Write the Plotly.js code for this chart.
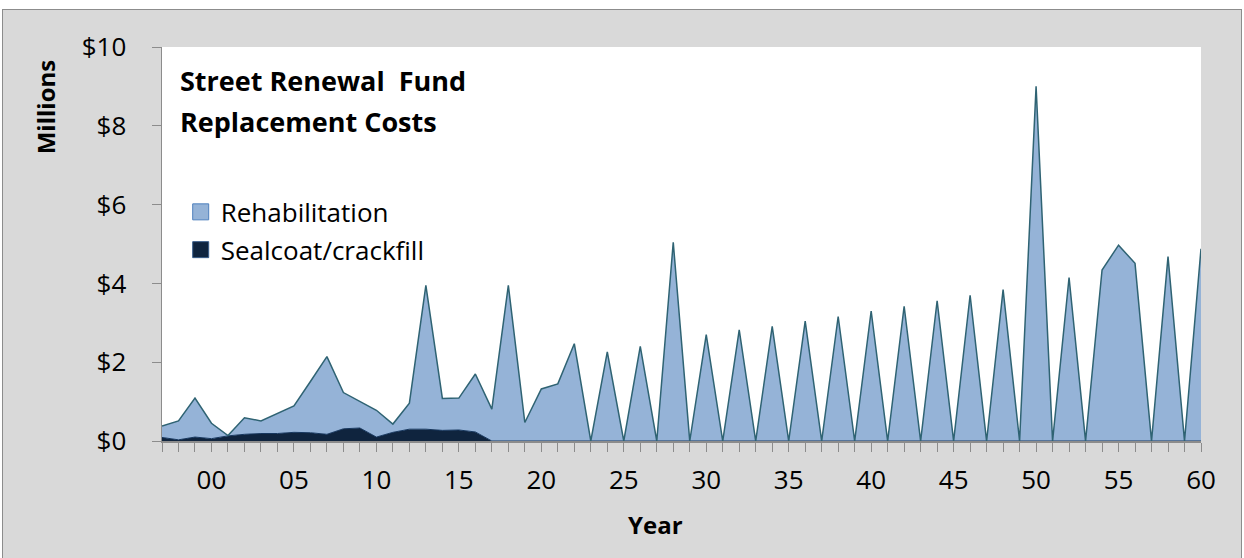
<!DOCTYPE html>
<html>
<head>
<meta charset="utf-8">
<script src="https://cdn.plot.ly/plotly-3.0.1.min.js"></script>
<style>
  html, body { margin: 0; padding: 0; background: #ffffff; }
  #frame { position: absolute; left: 2px; top: 9px; width: 1238px; height: 549px;
           border: 1px solid #8c8c8c; border-bottom: none; background: #d9d9d9; }
  #chart { width: 1238px; height: 549px; }
</style>
</head>
<body>
<div id="frame"><div id="chart"></div></div>
<script>
// Years (category axis) 1997–2060
const years = [1997,1998,1999,2000,2001,2002,2003,2004,2005,2006,2007,2008,2009,2010,
  2011,2012,2013,2014,2015,2016,2017,2018,2019,2020,2021,2022,2023,2024,2025,2026,2027,
  2028,2029,2030,2031,2032,2033,2034,2035,2036,2037,2038,2039,2040,2041,2042,2043,2044,
  2045,2046,2047,2048,2049,2050,2051,2052,2053,2054,2055,2056,2057,2058,2059,2060];

// Sealcoat/crackfill costs, $ millions (bottom of stack)
const sealcoat = [0.09,0.03,0.10,0.06,0.13,0.17,0.19,0.19,0.22,0.21,0.17,0.31,0.33,0.10,
  0.22,0.30,0.30,0.27,0.28,0.23,0,0,0,0,0,0,0,0,0,0,0,0,0,0,0,0,0,0,0,0,0,0,0,0,0,0,0,0,
  0,0,0,0,0,0,0,0,0,0,0,0,0,0,0,0];

// Rehabilitation costs, $ millions (stacked on top)
const rehab = [0.29,0.48,0.99,0.39,0.01,0.42,0.32,0.52,0.67,1.30,1.97,0.92,0.67,0.68,0.21,
  0.66,3.65,0.81,0.81,1.47,0.81,3.95,0.47,1.32,1.45,2.47,0,2.26,0,2.40,0,5.04,0,2.70,0,
  2.82,0,2.91,0,3.04,0,3.16,0,3.30,0,3.42,0,3.56,0,3.70,0,3.84,0,9.0,0,4.15,0,4.34,4.97,
  4.51,0,4.68,0,4.88];

// X tick labels
const xTickVals = [2000,2005,2010,2015,2020,2025,2030,2035,2040,2045,2050,2055,2060];
const xTickText = ["00","05","10","15","20","25","30","35","40","45","50","55","60"];

// Y ticks
const yTickVals = [0,2,4,6,8,10];
const yTickText = ["$0","$2","$4","$6","$8","$10"];

const FONT = "'Open Sans', Lato, sans-serif";
const rehabFill = "#95b3d7", rehabLine = "#2f6373";
const sealFill = "#0f243e", sealLine = "#17375e";

const traces = [
  { x: years, y: sealcoat, type: "scatter", mode: "lines", stackgroup: "one",
    name: "Sealcoat/crackfill", fillcolor: sealFill,
    line: { color: sealLine, width: 1 }, showlegend: false, hoverinfo: "x+y" },
  { x: years, y: rehab, type: "scatter", mode: "lines", stackgroup: "one",
    name: "Rehabilitation", fillcolor: rehabFill,
    line: { color: rehabLine, width: 1.5 }, showlegend: false, hoverinfo: "x+y" },
  // legend entries (square swatches)
  { x: [null], y: [null], type: "scatter", mode: "markers", name: "Rehabilitation",
    legendgroup: "a", marker: { symbol: "square", size: 16, color: rehabFill,
    line: { color: "#4f81bd", width: 1 } } },
  { x: [null], y: [null], type: "scatter", mode: "markers", name: "Sealcoat/crackfill",
    legendgroup: "b", marker: { symbol: "square", size: 16, color: sealFill,
    line: { color: "#385d8a", width: 1 } } }
];

const layout = {
  width: 1238, height: 549,
  margin: { l: 159, r: 40, t: 37, b: 118 },
  paper_bgcolor: "#d9d9d9",
  plot_bgcolor: "#ffffff",
  font: { family: FONT, color: "#000000", size: 22 },
  showlegend: true,
  legend: { x: 0.018, y: 0.641, xanchor: "left", yanchor: "top",
    bgcolor: "rgba(0,0,0,0)", font: { family: FONT, size: 26, color: "#000" },
    traceorder: "grouped", tracegroupgap: 1 },
  xaxis: {
    range: [1997, 2060], type: "linear",
    tickmode: "array", tickvals: xTickVals, ticktext: xTickText,
    ticks: "outside", ticklen: 9, tickcolor: "#8c8c8c", tickwidth: 1,
    minor: { tickmode: "linear", tick0: 1997, dtick: 1, ticks: "outside",
             ticklen: 9, tickcolor: "#8c8c8c", tickwidth: 1, showgrid: false },
    showline: true, linecolor: "#8c8c8c", linewidth: 1.5,
    showgrid: false, zeroline: false,
    tickfont: { family: FONT, size: 26, color: "#000" },
    ticklabelstandoff: 6, fixedrange: true
  },
  yaxis: {
    range: [0, 10], tickmode: "array", tickvals: yTickVals, ticktext: yTickText,
    ticks: "outside", ticklen: 9, tickcolor: "#8c8c8c", tickwidth: 1,
    showline: true, linecolor: "#8c8c8c", linewidth: 1.5,
    showgrid: false, zeroline: false,
    tickfont: { family: FONT, size: 26, color: "#000" },
    ticklabelstandoff: 20, fixedrange: true
  },
  annotations: [
    { text: "<b>Street Renewal\u00a0 Fund</b>", xref: "paper", yref: "paper",
      x: 0.0154, y: 0.915, xanchor: "left", yanchor: "middle", showarrow: false,
      font: { family: FONT, size: 27, color: "#000" } },
    { text: "<b>Replacement Costs</b>", xref: "paper", yref: "paper",
      x: 0.0154, y: 0.81, xanchor: "left", yanchor: "middle", showarrow: false,
      font: { family: FONT, size: 27, color: "#000" } },
    { text: "<b>Millions</b>", xref: "paper", yref: "paper", textangle: -90,
      x: -0.1126, y: 0.847, xanchor: "center", yanchor: "middle", showarrow: false,
      font: { family: FONT, size: 24, color: "#000" } },
    { text: "<b>Year</b>", xref: "paper", yref: "paper",
      x: 0.4745, y: -0.211, xanchor: "center", yanchor: "middle", showarrow: false,
      font: { family: FONT, size: 24, color: "#000" } }
  ]
};

Plotly.newPlot("chart", traces, layout, { displayModeBar: false, staticPlot: true });
</script>
</body>
</html>
